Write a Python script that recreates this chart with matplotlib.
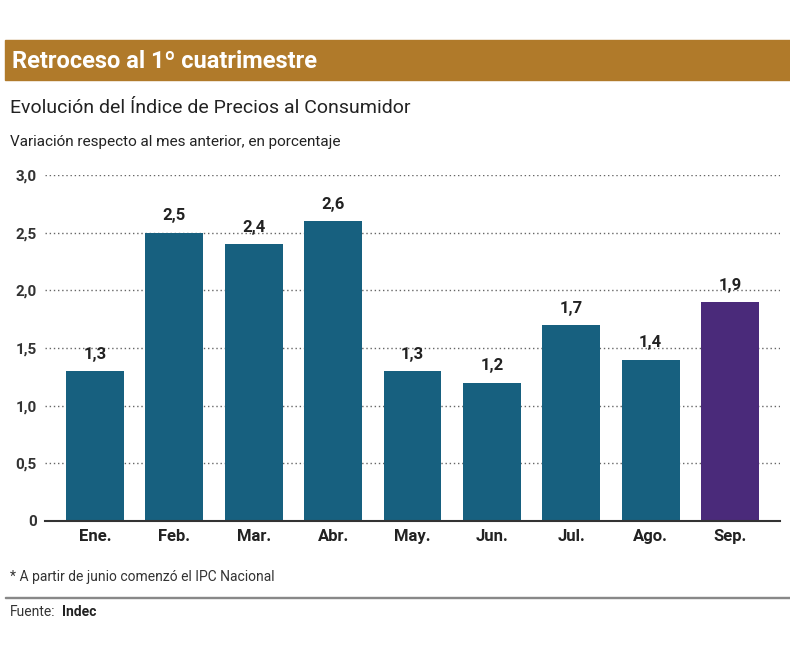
import matplotlib
matplotlib.use("Agg")
import matplotlib.pyplot as plt
from matplotlib.patches import Rectangle

months = ["Ene.", "Feb.", "Mar.", "Abr.", "May.", "Jun.", "Jul.", "Ago.", "Sep."]
values = [1.3, 2.5, 2.4, 2.6, 1.3, 1.2, 1.7, 1.4, 1.9]
yticks = [0, 0.5, 1.0, 1.5, 2.0, 2.5, 3.0]
ytick_labels = ["0", "0,5", "1,0", "1,5", "2,0", "2,5", "3,0"]
colors = ["#17607f"] * 8 + ["#4a2a7a"]

plt.rcParams['font.family'] = ['Roboto', 'DejaVu Sans']
fig = plt.figure(figsize=(7.9, 6.64), dpi=100)
fig.patches.append(Rectangle((5/790, 1-80/664), 785/790, 40/664, transform=fig.transFigure,
                             color="#b07a2a", zorder=0))
fig.text(12/790, 1-61/664, "Retroceso al 1º cuatrimestre", color="white", fontsize=17,
         fontweight="bold", va="center")
fig.text(10/790, 1-108/664, "Evolución del Índice de Precios al Consumidor", fontsize=14,
         color="#222222", va="center")
fig.text(10/790, 1-142/664, "Variación respecto al mes anterior, en porcentaje", fontsize=11,
         color="#222222", va="center")
fig.text(10/790, 1-577/664, "* A partir de junio comenzó el IPC Nacional", fontsize=10,
         color="#333333", va="center")
fig.patches.append(Rectangle((5/790, 1-598/664), 785/790, 1.5/664, transform=fig.transFigure,
                             color="#888888"))
fig.text(10/790, 1-612/664, "Fuente:", fontsize=10, color="#333333", va="center")
fig.text(62/790, 1-612/664, "Indec", fontsize=10, color="#222222", fontweight="bold", va="center")

ax = fig.add_axes([45/790, 1-521/664, 735/790, 346/664])
x = list(range(len(months)))
ax.bar(x, values, width=0.73, color=colors, zorder=2)
for xi, v in zip(x, values):
    ax.text(xi, v + 0.08, f"{v:.1f}".replace(".", ","), ha="center", va="bottom",
            fontsize=12, fontweight="bold", color="#222222")
ax.set_ylim(0, 3.0)
ax.set_xlim(-0.63, 8.63)
ax.set_yticks(yticks)
ax.set_yticklabels(ytick_labels, fontsize=11, fontweight="bold", color="#333333")
ax.set_xticks(x)
ax.set_xticklabels(months, fontsize=12, fontweight="bold", color="#222222")
for t in yticks[1:]:
    ax.axhline(t, color="#666666", linestyle=(0, (1, 2)), linewidth=1, zorder=1)
for s in ["top", "right", "left"]:
    ax.spines[s].set_visible(False)
ax.spines["bottom"].set_color("#333333")
ax.spines["bottom"].set_linewidth(1.5)
ax.tick_params(axis="both", length=0, pad=6)
fig.savefig("out.png", dpi=100, facecolor="white")
